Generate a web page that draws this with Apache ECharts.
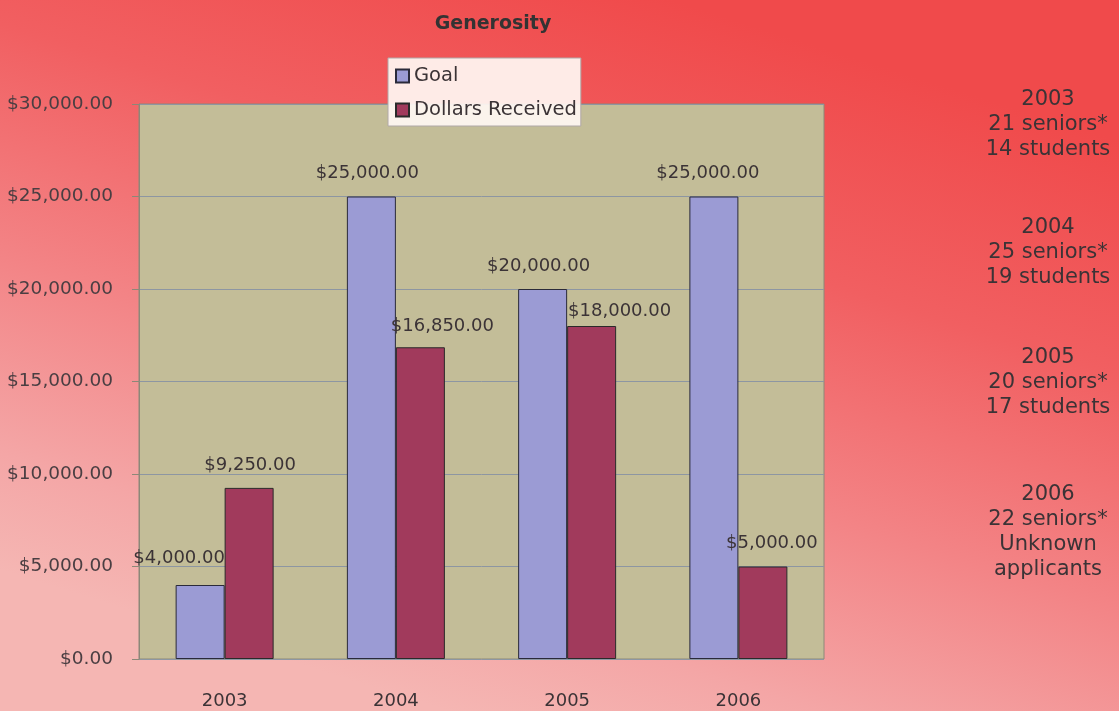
<!DOCTYPE html>
<html>
<head>
<meta charset="utf-8">
<title>Generosity</title>
<script src="https://cdn.jsdelivr.net/npm/echarts@6/dist/echarts.min.js"></script>
<style>
  html, body { margin: 0; padding: 0; }
  #chart { width: 1119px; height: 711px; }
</style>
</head>
<body>
<div id="chart"></div>
<script>
// data
const years = ['2003', '2004', '2005', '2006'];
const goal = [4000, 25000, 20000, 25000];
const received = [9250, 16850, 18000, 5000];
const yTicks = [0, 5000, 10000, 15000, 20000, 25000, 30000];

// side notes, one block per year
const notes = [
  ['2003', '21 seniors*', '14 students'],
  ['2004', '25 seniors*', '19 students'],
  ['2005', '20 seniors*', '17 students'],
  ['2006', '22 seniors*', 'Unknown', 'applicants'],
];

// label nudges [dx, dy] so labels sit like the original
const goalShift = [[-21, -4], [-4, 0], [-4, 0], [-6, 0]];
const recvShift = [[1, 0], [22, 2], [28, 8], [9, 0]];

const money = (v) =>
  '$' + Number(v).toLocaleString('en-US', { minimumFractionDigits: 2, maximumFractionDigits: 2 });

const FONT = 'DejaVu Sans';
const TXT = '#3b3336';

const chart = echarts.init(document.getElementById('chart'));

const withShift = (vals, shifts) =>
  vals.map((v, i) => ({ value: v, label: { offset: shifts[i] } }));

const noteBlockTop = [100, 228, 358, 495];
const noteGraphics = [];
notes.forEach((lines, b) => {
  lines.forEach((t, i) => {
    noteGraphics.push({
      type: 'text',
      x: 1048,
      y: noteBlockTop[b] + i * 25,
      style: {
        text: t,
        x: 0, y: 0,
        align: 'center',
        verticalAlign: 'middle',
        fill: TXT,
        font: '21px "' + FONT + '"',
      },
    });
  });
});

const option = {
  animation: false,
  backgroundColor: {
    type: 'linear',
    x: 0.6, y: 0, x2: 0.4, y2: 1,
    colorStops: [
      { offset: 0, color: '#f04a4b' },
      { offset: 0.3, color: '#f15f61' },
      { offset: 0.6, color: '#f38486' },
      { offset: 0.85, color: '#f4a6a6' },
      { offset: 1, color: '#f5b6b3' },
    ],
  },
  textStyle: { fontFamily: FONT },
  title: {
    text: 'Generosity',
    left: 488,
    top: 10,
    textAlign: 'center',
    textStyle: { fontFamily: FONT, fontSize: 19, fontWeight: 'bold', color: '#333' },
  },
  legend: {
    orient: 'vertical',
    left: 388,
    top: 58,
    padding: [8, 4, 6, 7],
    itemWidth: 13,
    itemHeight: 13,
    itemGap: 14,
    icon: 'rect',
    backgroundColor: 'rgba(255,246,242,0.93)',
    borderColor: '#b0a8a8',
    borderWidth: 1,
    textStyle: { fontFamily: FONT, fontSize: 19.5, color: TXT },
    data: ['Goal', 'Dollars Received'],
  },
  grid: {
    left: 139,
    right: 295,
    top: 104,
    bottom: 52,
    show: true,
    backgroundColor: '#c3bd98',
    borderColor: '#8c8878',
    borderWidth: 1,
  },
  xAxis: {
    type: 'category',
    data: years,
    axisLine: { show: false },
    axisTick: { show: false },
    axisLabel: { margin: 33, fontFamily: FONT, fontSize: 18, color: TXT },
  },
  yAxis: {
    type: 'value',
    min: yTicks[0],
    max: yTicks[yTicks.length - 1],
    interval: yTicks[1] - yTicks[0],
    axisLine: { show: true, lineStyle: { color: '#8c8878' } },
    axisTick: { show: true, length: 7, lineStyle: { color: '#8c8878' } },
    splitLine: { show: true, lineStyle: { color: '#8d96a2', width: 1 } },
    axisLabel: { margin: 26, fontFamily: FONT, fontSize: 18.5, color: '#4a3e42', formatter: money },
  },
  series: [
    {
      name: 'Goal',
      type: 'bar',
      barWidth: 49,
      barGap: '0%',
      data: withShift(goal, goalShift),
      itemStyle: { color: '#9b9bd4', borderColor: '#2a2a3a', borderWidth: 1 },
      label: {
        show: true,
        position: 'top',
        distance: 14,
        fontFamily: FONT,
        fontSize: 18,
        color: TXT,
        formatter: (p) => money(p.value),
      },
    },
    {
      name: 'Dollars Received',
      type: 'bar',
      barWidth: 49,
      barGap: '0%',
      data: withShift(received, recvShift),
      itemStyle: { color: '#a13a5c', borderColor: '#2a2a2a', borderWidth: 1 },
      label: {
        show: true,
        position: 'top',
        distance: 14,
        fontFamily: FONT,
        fontSize: 18,
        color: TXT,
        formatter: (p) => money(p.value),
      },
    },
  ],
  graphic: noteGraphics,
};

chart.setOption(option);
</script>
</body>
</html>
